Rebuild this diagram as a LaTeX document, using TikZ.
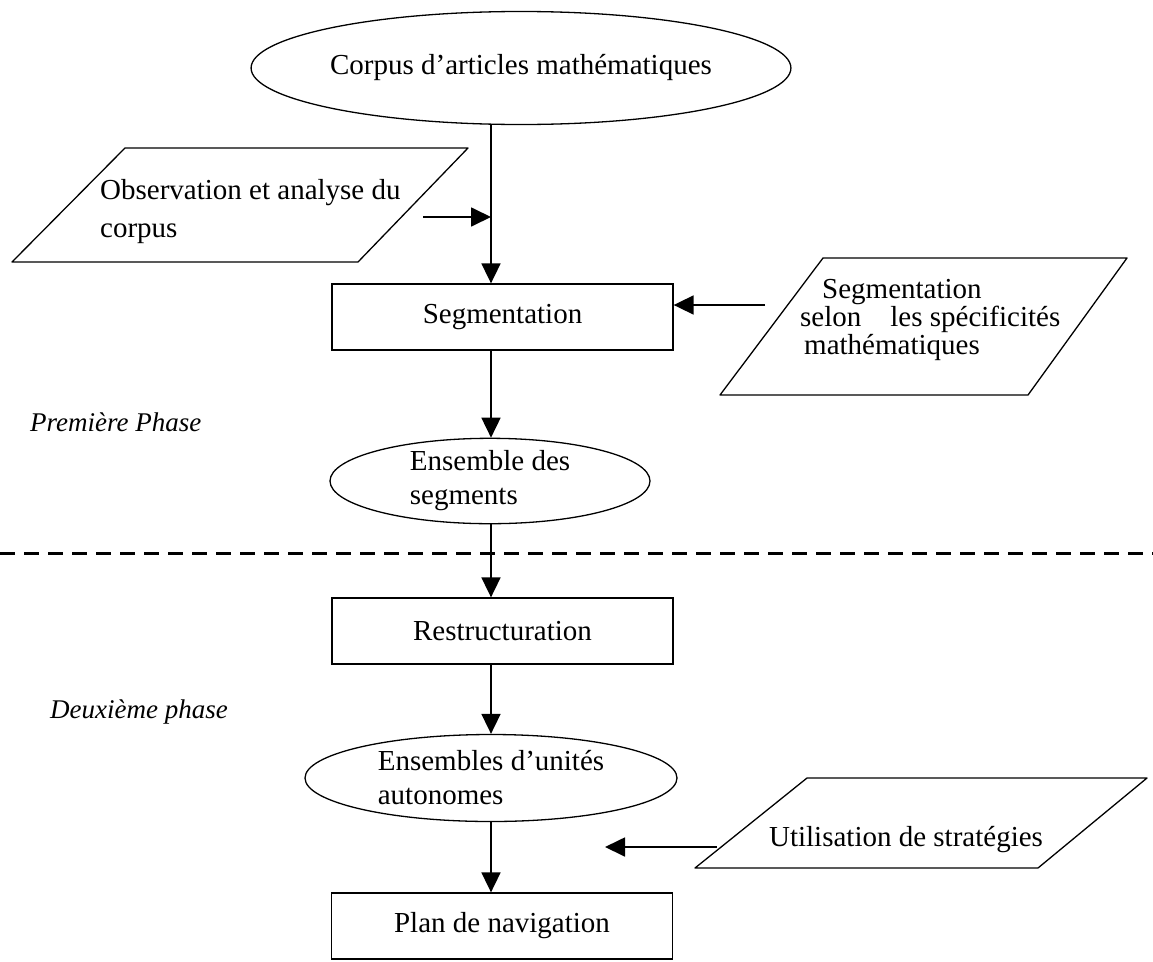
\documentclass[tikz,border=0pt]{standalone}
\usepackage{fontspec}
\setmainfont{Liberation Serif}
\usetikzlibrary{shapes.geometric,arrows.meta}
\begin{document}
\begin{tikzpicture}[x=1pt,y=-1pt,
 txt/.style={font=\fontsize{29}{34}\selectfont},
 box/.style={txt, draw, line width=1.3pt, minimum width=341pt, minimum height=66pt, inner sep=0pt},
 ell/.style={txt, draw, ellipse, line width=1.3pt, inner sep=0pt, align=left},
 para/.style={draw, line width=1.3pt, line join=round},
 arr/.style={line width=1.8pt, -{Triangle[length=20pt,width=19pt]}},
 phase/.style={font=\itshape\fontsize{27}{30}\selectfont, anchor=west, inner sep=0pt},
 dashline/.style={line width=3pt, dash pattern=on 15pt off 9pt},
]
\useasboundingbox (0,0) rectangle (1153,961);

% vertical axis of the flow
\coordinate (ax) at (491,0);

% first phase
\node[ell, minimum width=486pt, minimum height=113pt] (corpus) at (521,68) {Corpus d'articles mathématiques};

\draw[para] (12,262) -- (358,262) -- (468,148) -- (125,148) -- cycle;
\node[txt, anchor=west, align=left, inner sep=0pt, font=\fontsize{29}{38}\selectfont] (obs) at (100,212) {Observation et analyse du\\corpus};
\coordinate (obsout) at (423,217);

\node[box] (seg) at (502.5,317) {Segmentation};

\draw[para] (720,395) -- (1028,395) -- (1127,258) -- (823,258) -- cycle;
\node[txt, anchor=west, align=left, inner sep=0pt, font=\fontsize{29}{28}\selectfont] (spec) at (800,320) {\hspace*{22pt}Segmentation\\selon\quad les spécificités\\\hspace*{4pt}mathématiques};
\coordinate (specout) at (765,305);

\node[ell, minimum width=320pt, minimum height=83pt] (ens) at (490,481) {Ensemble des\\segments\hspace*{20pt}};

\node[phase] (p1) at (30,422) {Première Phase};

\draw[dashline] (0,553) -- (1153,553);

% second phase
\node[box] (restr) at (502.5,631) {Restructuration};

\node[phase] (p2) at (50,712) {Deuxième phase};

\node[ell, minimum width=372pt, minimum height=87pt] (unites) at (491,778) {Ensembles d'unités\\autonomes};

\draw[para] (695,868) -- (1038,868) -- (1147,778) -- (807,778) -- cycle;
\node[txt, inner sep=0pt] (strat) at (906,840) {Utilisation de stratégies};
\coordinate (stratout) at (717,847);
\coordinate (stratend) at (605,847);

\node[box] (plan) at (502,926) {Plan de navigation};

% connectors
\draw[arr] (corpus.south -| ax) -- (seg.north -| ax);
\draw[arr] (obsout) -- (obsout -| ax);
\draw[arr] (specout) -- (specout -| seg.east);
\draw[arr] (seg.south -| ax) -- (ens.north -| ax);
\draw[arr] (ens.south -| ax) -- (restr.north -| ax);
\draw[arr] (restr.south -| ax) -- (unites.north -| ax);
\draw[arr] (unites.south -| ax) -- (plan.north -| ax);
\draw[arr] (stratout) -- (stratend);
\end{tikzpicture}
\end{document}
